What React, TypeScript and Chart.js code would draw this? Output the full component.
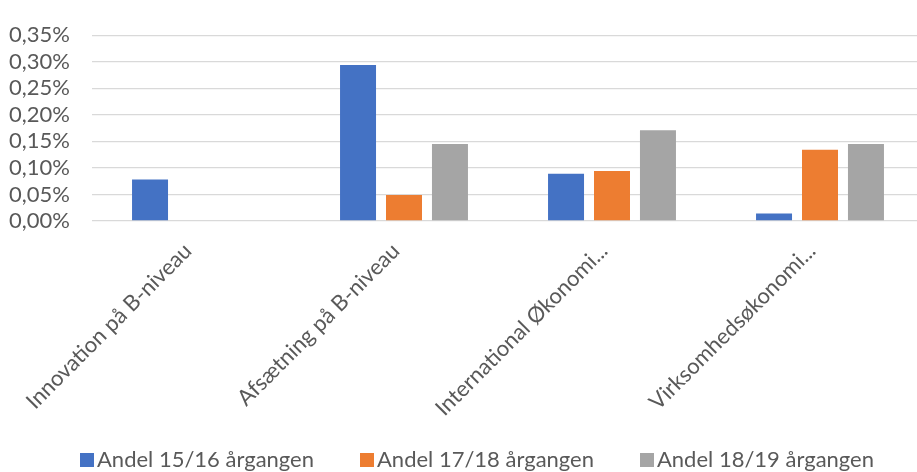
import React, { useEffect, useRef } from "react";
import { Chart, registerables } from "chart.js";

Chart.register(...registerables);

// ---- data ----
const categories = [
  "Innovation på B-niveau",
  "Afsætning på B-niveau",
  "International Økonomi...",
  "Virksomhedsøkonomi...",
];
const seriesNames = ["Andel 15/16 årgangen", "Andel 17/18 årgangen", "Andel 18/19 årgangen"];
const andel1516 = [0.078, 0.294, 0.089, 0.014];
const andel1718 = [null, 0.049, 0.094, 0.134];
const andel1819 = [null, 0.145, 0.171, 0.145];
const seriesColors = ["#4472C4", "#ED7D31", "#A5A5A5"];
const yMin = 0;
const yMax = 0.35;
const yStep = 0.05;

const FONT = "Lato";
const TEXT_COLOR = "#595959";
const GRID_COLOR = "#D9D9D9";

// Bottom legend drawn Excel-style (small square, tight gap to text)
const excelLegend = {
  id: "excelLegend",
  afterDraw(chart: any) {
    const ctx = chart.ctx as CanvasRenderingContext2D;
    ctx.save();
    ctx.font = `22px ${FONT}`;
    const box = 14;
    const gapText = 3;
    const gapItem = 46;
    const items = chart.data.datasets.map((ds: any) => ({
      text: ds.label as string,
      color: ds.backgroundColor as string,
      w: ctx.measureText(ds.label).width,
    }));
    const total =
      items.reduce((a: number, it: any) => a + box + gapText + it.w, 0) + gapItem * (items.length - 1);
    let x = chart.width / 2 - total / 2;
    const baseline = 467;
    for (const it of items) {
      ctx.fillStyle = it.color;
      ctx.fillRect(Math.round(x), baseline - box, box, box);
      ctx.fillStyle = TEXT_COLOR;
      ctx.textBaseline = "alphabetic";
      ctx.textAlign = "left";
      ctx.fillText(it.text, x + box + gapText, baseline);
      x += box + gapText + it.w + gapItem;
    }
    ctx.restore();
  },
};

export default function App() {
  const canvasRef = useRef<HTMLCanvasElement | null>(null);

  useEffect(() => {
    const canvas = canvasRef.current;
    if (!canvas) return;
    const seriesData = [andel1516, andel1718, andel1819];
    const chart = new Chart(canvas, {
      type: "bar",
      data: {
        labels: categories,
        datasets: seriesNames.map((name, i) => ({
          label: name,
          data: seriesData[i] as any,
          backgroundColor: seriesColors[i],
          borderWidth: 0,
          categoryPercentage: 0.663,
          barPercentage: 0.783,
        })),
      },
      options: {
        responsive: false,
        animation: false,
        devicePixelRatio: 1,
        layout: { padding: { left: 0, right: 30, top: 22, bottom: 52 } },
        font: { family: FONT },
        plugins: {
          tooltip: { enabled: false },
          legend: { display: false },
        },
        scales: {
          x: {
            grid: { display: false },
            border: { display: false },
            ticks: {
              color: TEXT_COLOR,
              font: { family: FONT, size: 22 },
              minRotation: 45,
              maxRotation: 45,
              autoSkip: false,
              padding: 9,
              labelOffset: -8,
            },
            afterFit: (s: any) => {
              s.height = 199;
            },
          },
          y: {
            min: yMin,
            max: yMax,
            grid: { color: GRID_COLOR, lineWidth: 1.3, drawTicks: false },
            border: { display: false },
            ticks: {
              stepSize: yStep,
              autoSkip: false,
              color: TEXT_COLOR,
              font: { family: FONT, size: 22 },
              padding: 22,
              callback: (v: any) => (Math.round(Number(v) * 100) / 100).toFixed(2).replace(".", ",") + "%",
            },
            afterFit: (s: any) => {
              s.width = 92;
            },
          },
        },
      },
      plugins: [excelLegend],
    });
    return () => chart.destroy();
  }, []);

  return (
    <div
      style={{
        position: "fixed",
        left: 0,
        top: 0,
        width: 917,
        height: 472,
        overflow: "hidden",
        background: "#ffffff",
      }}
    >
      <canvas ref={canvasRef} width={954} height={472} style={{ display: "block", width: 954, height: 472 }} />
    </div>
  );
}
